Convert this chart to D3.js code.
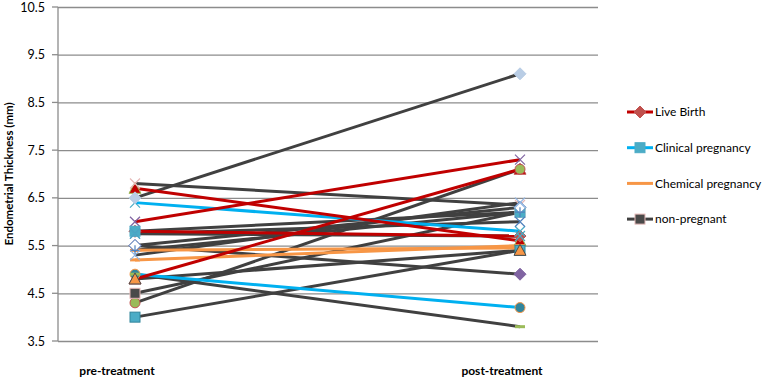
<!DOCTYPE html>
<html>
<head>
<meta charset="utf-8">
<script src="https://cdn.jsdelivr.net/npm/d3@7"></script>
<style>
  body { margin: 0; background: #fff; }
  text { font-family: Lato, "Open Sans", sans-serif; fill: #000; }
</style>
</head>
<body>
<div id="chart"></div>
<script>
let width = 765,
    height = 380;

// categories and y ticks
const phases = ["pre-treatment", "post-treatment"];
const yTicks = [3.5, 4.5, 5.5, 6.5, 7.5, 8.5, 9.5, 10.5];
const groups = ["Live Birth", "Clinical pregnancy", "Chemical pregnancy", "non-pregnant"];

// one pair of values per patient: [pre, post]
const liveBirth = [[6.7, 5.6], [6.0, 7.3], [5.8, 5.7], [4.8, 7.1]];
const clinical = [[6.4, 5.8], [4.9, 4.2]];
const chemical = [[5.4, 5.45], [5.2, 5.5]];
const nonPregnant = [
  [6.5, 9.1], [6.8, 6.35], [4.3, 7.1], [4.5, 6.2], [4.0, 5.4], [5.5, 4.9],
  [4.9, 3.8], [5.8, 6.2], [5.75, 6.0], [5.5, 6.3], [5.4, 6.2], [5.3, 6.4],
  [4.8, 5.4], [5.75, 5.7]
];

const lineColor = d3.scaleOrdinal()
  .domain(groups)
  .range(["#C00000", "#00B0F0", "#F79646", "#404040"]);

// marker per patient (shape, fill, stroke), same order as the arrays above
const markers = [
  ["triangle", "#C00000", "#9BBB59"], ["x", "#8064A2", "#8064A2"], ["diamond", "#C0504D", "#C0504D"], ["triangle", "#C00000", "#C0504D"],
  ["x", "#4BACC6", "#4BACC6"], ["circle", "#31859C", "#F79646"],
  ["dash", "#F79646", "#F79646"], ["dash", "#F79646", "#F79646"],
  ["diamond", "#B9CDE5", "#B9CDE5"], ["x", "#E6B9B8", "#E6B9B8"], ["circle", "#9BBB59", "#C0504D"],
  ["square", "#4A4A4A", "#E6B9B8"], ["square", "#4BACC6", "#31859C"], ["diamond", "#8064A2", "#8064A2"],
  ["dash", "#9BBB59", "#9BBB59"], ["square", "#4BACC6", "#4BACC6"], ["x", "#4F81BD", "#4F81BD"],
  ["diamond", "#FFFFFF", "#4F81BD"], ["plus", "#4F81BD", "#4F81BD"], ["x", "#8EB4E3", "#8EB4E3"],
  ["triangle", "#F79646", "#4A4A4A"], ["x", "#4BACC6", "#4BACC6"]
];

let series = [];
[liveBirth, clinical, chemical, nonPregnant].forEach((arr, gi) => {
  arr.forEach(v => series.push({ group: groups[gi], values: v }));
});
series.forEach((s, i) => s.marker = markers[i]);

const svg = d3.select("#chart")
  .append("svg")
  .attr("width", width)
  .attr("height", height);

let x = d3.scalePoint()
  .domain(phases)
  .range([135, 520]);

let y = d3.scaleLinear()
  .domain([3.5, 10.5])
  .range([341, 7]);

// gridlines
svg.append("g")
  .attr("transform", "translate(58,0)")
  .call(d3.axisLeft(y).tickValues(yTicks).tickFormat(d3.format(".1f")).tickSize(-540).tickPadding(13))
  .call(g => g.select(".domain").remove())
  .call(g => g.selectAll(".tick line").attr("stroke", "#8c8c8c").attr("stroke-width", 1.3))
  .call(g => g.selectAll(".tick text").attr("font-size", 12.5).attr("fill", "#000"));

// small tick marks left of the axis
svg.append("g")
  .selectAll("line")
  .data(yTicks)
  .join("line")
  .attr("x1", 52).attr("x2", 58)
  .attr("y1", d => y(d)).attr("y2", d => y(d))
  .attr("stroke", "#8c8c8c").attr("stroke-width", 1.3);

svg.append("line")
  .attr("x1", 58).attr("x2", 58)
  .attr("y1", y(10.5)).attr("y2", y(3.5))
  .attr("stroke", "#8c8c8c").attr("stroke-width", 1.3);

// category labels
svg.append("g")
  .selectAll("text")
  .data(phases)
  .join("text")
  .attr("x", d => x(d) - 18)
  .attr("y", 375)
  .attr("text-anchor", "middle")
  .attr("font-size", 12)
  .attr("font-weight", "bold")
  .text(d => d);

svg.append("text")
  .attr("transform", `translate(13,${y(7)}) rotate(-90)`)
  .attr("text-anchor", "middle")
  .attr("font-size", 11.5)
  .attr("font-weight", "bold")
  .text("Endometrial Thickness (mm)");

const line = d3.line()
  .x((d, i) => x(phases[i]))
  .y(d => y(d));

// dark lines first so the coloured ones sit on top
const order = groups.slice().reverse();
const sorted = series.slice().sort((a, b) => order.indexOf(a.group) - order.indexOf(b.group));

svg.append("g")
  .selectAll("path")
  .data(sorted)
  .join("path")
  .attr("d", d => line(d.values))
  .attr("fill", "none")
  .attr("stroke", d => lineColor(d.group))
  .attr("stroke-width", 3);

function drawMarker(g, m, cx, cy) {
  const [shape, fill, stroke] = m;
  if (shape === "circle") {
    g.append("circle").attr("cx", cx).attr("cy", cy).attr("r", 5)
      .attr("fill", fill).attr("stroke", stroke).attr("stroke-width", 1);
  } else if (shape === "square") {
    g.append("rect").attr("x", cx - 5).attr("y", cy - 5).attr("width", 10).attr("height", 10)
      .attr("fill", fill).attr("stroke", stroke).attr("stroke-width", 1);
  } else if (shape === "diamond") {
    g.append("path").attr("d", `M${cx},${cy - 6}L${cx + 6},${cy}L${cx},${cy + 6}L${cx - 6},${cy}Z`)
      .attr("fill", fill).attr("stroke", stroke).attr("stroke-width", 1);
  } else if (shape === "triangle") {
    g.append("path").attr("d", `M${cx},${cy - 6}L${cx + 6},${cy + 5}L${cx - 6},${cy + 5}Z`)
      .attr("fill", fill).attr("stroke", stroke).attr("stroke-width", 1);
  } else if (shape === "x") {
    g.append("path").attr("d", `M${cx - 5},${cy - 5}L${cx + 5},${cy + 5}M${cx - 5},${cy + 5}L${cx + 5},${cy - 5}`)
      .attr("stroke", stroke).attr("stroke-width", 1.2);
  } else if (shape === "plus") {
    g.append("path").attr("d", `M${cx - 5},${cy}L${cx + 5},${cy}M${cx},${cy - 5}L${cx},${cy + 5}`)
      .attr("stroke", stroke).attr("stroke-width", 1.2);
  } else if (shape === "dash") {
    g.append("rect").attr("x", cx - 5).attr("y", cy - 1.5).attr("width", 10).attr("height", 3)
      .attr("fill", fill);
  }
}

// markers in series order, later patients drawn over earlier ones
const markerG = svg.append("g");
series.forEach(s => {
  s.values.forEach((v, i) => drawMarker(markerG, s.marker, x(phases[i]), y(v)));
});

// legend
const legendMarkers = [
  ["diamond", "#C0504D", "#C0504D"], ["square", "#4BACC6", "#4BACC6"],
  null, ["square", "#4A4A4A", "#E6B9B8"]
];
const legend = svg.append("g").attr("class", "legend");
groups.forEach((gname, i) => {
  const ly = 112 + i * 35.7;
  legend.append("line")
    .attr("x1", 627).attr("x2", 653)
    .attr("y1", ly).attr("y2", ly)
    .attr("stroke", lineColor(gname)).attr("stroke-width", 3);
  if (legendMarkers[i]) drawMarker(legend, legendMarkers[i], 640, ly);
  legend.append("text")
    .attr("x", 655).attr("y", ly)
    .attr("dy", "0.35em")
    .attr("font-size", 12)
    .text(gname);
});
</script>
</body>
</html>
